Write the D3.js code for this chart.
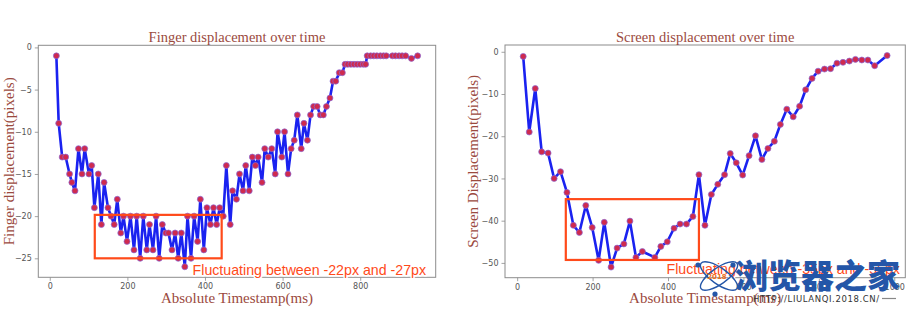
<!DOCTYPE html>
<html>
<head>
<meta charset="utf-8">
<script src="https://cdn.jsdelivr.net/npm/d3@7/dist/d3.min.js"></script>
<style>
  html, body { margin: 0; padding: 0; background: #fff; }
  svg { display: block; }
</style>
</head>
<body>
<svg id="chart" width="917" height="325"></svg>
<script>
// Finger displacement samples (time in ms, displacement in px)
const fingerTime = [17, 23, 32, 41, 51, 57, 65, 74, 83, 90, 101, 108, 115, 125, 133, 140, 150, 158, 166, 174,
  183, 190, 199, 208, 217, 224, 233, 241, 250, 257, 266, 274, 282, 290, 299, 306, 315, 323, 331, 339,
  348, 355, 364, 372, 381, 388, 397, 405, 414, 422, 430, 438, 447, 455, 465, 471, 481, 489, 498, 505,
  514, 522, 530, 537, 547, 554, 563, 572, 581, 587, 598, 605, 614, 622, 630, 638, 648, 655, 664, 672,
  680, 689, 697, 705, 713, 722, 730, 737, 746, 754, 761, 768, 776, 784, 792, 800, 808, 814,
  818, 827, 835, 843, 852, 860, 867, 883, 891, 900, 908, 917, 932, 948];
const fingerDisp = [-1, -9, -13, -13, -15, -16, -17, -12, -15, -12, -15, -14, -19, -15, -21, -16, -19, -20, -21, -18,
  -22, -20, -23, -20, -24, -20, -25, -20, -24, -21, -24, -20, -25, -21, -22, -22, -24, -22, -25, -22,
  -26, -20, -25, -20, -23, -18, -24, -19, -21, -19, -21, -19, -20, -14, -21, -17, -18, -15, -17, -14,
  -17, -13, -14, -13, -16, -12, -13, -12, -15, -10, -13, -10, -15, -12, -11, -8, -12, -9, -11, -8,
  -7, -7, -8, -8, -7, -6, -4, -4, -3, -3, -2, -2, -2, -2, -2, -2, -2, -2,
  -1, -1, -1, -1, -1, -1, -1, -1, -1, -1, -1, -1, -1.3, -1];

// Screen displacement samples
const screenTime = [16, 32, 48, 65, 82, 98, 115, 132, 149, 165, 182, 199, 216, 231, 249, 265, 283, 299, 315, 332,
  365, 381, 398, 416, 432, 449, 466, 482, 498, 515, 532, 550, 565, 581, 598, 615, 632, 649, 665, 682,
  698, 715, 732, 749, 765, 782, 798, 815, 831, 848, 864, 881, 897, 914, 930, 948, 981];
const screenDisp = [-1.1, -19.0, -8.7, -23.7, -24.0, -30.0, -28.4, -33.3, -41.1, -42.8, -36.4, -41.6, -49.4, -40.4, -51.0, -46.5, -45.5, -40.1, -48.7, -47.3,
  -48.7, -46.1, -45.0, -41.8, -40.8, -40.8, -39.0, -29.1, -41.1, -33.8, -31.4, -29.1, -24.1, -26.3, -29.2, -24.6, -19.9, -25.5, -22.9, -21.2,
  -17.2, -13.6, -15.4, -12.9, -9.0, -6.3, -4.6, -4.1, -4.0, -2.7, -2.5, -2.2, -1.8, -1.95, -1.95, -3.3, -0.9];

// Tick values
const fingerXTicks = [0, 200, 400, 600, 800];
const fingerYTicks = [0, -5, -10, -15, -20, -25];
const screenXTicks = [0, 200, 400, 600, 800, 1000];
const screenYTicks = [0, -10, -20, -30, -40, -50];

// Highlighted ranges: [t0, t1, v0, v1]
const fingerBox = [116, 443, -19.85, -25];
const screenBox = [129, 482, -34.9, -49.3];

// Annotation texts and anchors [t, v]
const fingerNote = "Fluctuating between -22px and -27px";
const fingerNoteAt = [368, -27.0];
const screenNote = "Fluctuating between -35px and -55px";
const screenNoteAt = [396, -52.6];

const titles = ["Finger displacement over time", "Screen displacement over time"];
const yLabels = ["Finger displacement(pixels)", "Screen Displacement(pixels)"];
const xLabel = "Absolute Timestamp(ms)";

const svg = d3.select("#chart");
const labelColor = "#9b4a3e";
const frameColor = "#8c8c8c";
const tickColor = "#555";
const serif = "'Liberation Serif', 'DejaVu Serif', serif";

function padded(ext) {
  const m = (ext[1] - ext[0]) * 0.05;
  return [ext[0] - m, ext[1] + m];
}

function panel(cfg) {
  const { box, times, vals, xTicks, yTicks, title, yLabel, hl, note, noteAt, yLabelX } = cfg;
  const x = d3.scaleLinear().domain(padded(d3.extent(times))).range([box.x0, box.x1]);
  const y = d3.scaleLinear().domain(padded(d3.extent(vals))).range([box.y1, box.y0]);
  const g = svg.append("g");

  // axes
  const xAxis = d3.axisBottom(x).tickValues(xTicks).tickSize(3.5).tickPadding(3).tickFormat(d3.format("d"));
  const yAxis = d3.axisLeft(y).tickValues(yTicks).tickSize(3.5).tickPadding(3).tickFormat(d => d < 0 ? "\u2212" + Math.abs(d) : d);
  const gx = g.append("g").attr("transform", `translate(0,${box.y1})`).call(xAxis);
  const gy = g.append("g").attr("transform", `translate(${box.x0},0)`).call(yAxis);
  [gx, gy].forEach(a => {
    a.select(".domain").remove();
    a.selectAll(".tick line").attr("stroke", frameColor).attr("stroke-width", 0.8);
    a.selectAll(".tick text").attr("fill", tickColor)
      .style("font-family", "'DejaVu Sans', sans-serif").style("font-size", "8px");
  });

  // frame
  g.append("rect").attr("x", box.x0).attr("y", box.y0)
    .attr("width", box.x1 - box.x0).attr("height", box.y1 - box.y0)
    .attr("fill", "none").attr("stroke", frameColor).attr("stroke-width", 1);

  // data line with dot markers
  const pts = times.map((t, i) => [t, vals[i]]);
  g.append("path").datum(pts)
    .attr("d", d3.line().x(d => x(d[0])).y(d => y(d[1])))
    .attr("fill", "none").attr("stroke", "#1a22f0").attr("stroke-width", 2.6)
    .attr("stroke-linejoin", "round");
  g.append("g").selectAll("circle").data(pts).join("circle")
    .attr("cx", d => x(d[0])).attr("cy", d => y(d[1])).attr("r", 3)
    .attr("fill", "#cf2a4e").attr("stroke", "#8a6ad8").attr("stroke-width", 0.7);

  // highlight box
  g.append("rect")
    .attr("x", x(hl[0])).attr("y", y(hl[2]))
    .attr("width", x(hl[1]) - x(hl[0])).attr("height", y(hl[3]) - y(hl[2]))
    .attr("fill", "none").attr("stroke", "#ff4a1a").attr("stroke-width", 2.2);

  // note
  g.append("text").attr("x", x(noteAt[0])).attr("y", y(noteAt[1]))
    .text(note)
    .attr("fill", "#ff4a1a").attr("stroke", "#fff").attr("stroke-width", 3)
    .attr("paint-order", "stroke").attr("stroke-linejoin", "round")
    .style("font-family", "'Liberation Sans', Arial, sans-serif").style("font-size", "14.2px");

  // title and labels
  g.append("text").attr("x", (box.x0 + box.x1) / 2).attr("y", box.y0 - 3.5)
    .attr("text-anchor", "middle").attr("fill", labelColor)
    .style("font-family", serif).style("font-size", "14.5px")
    .text(title);
  g.append("text").attr("x", (box.x0 + box.x1) / 2).attr("y", 303)
    .attr("text-anchor", "middle").attr("fill", labelColor)
    .style("font-family", serif).style("font-size", "15px")
    .text(xLabel);
  g.append("text")
    .attr("transform", `translate(${yLabelX},${(box.y0 + box.y1) / 2}) rotate(-90)`)
    .attr("text-anchor", "middle").attr("fill", labelColor)
    .style("font-family", serif).style("font-size", "15px")
    .text(yLabel);
}

panel({
  box: { x0: 38.3, x1: 435.7, y0: 45.3, y1: 277.3 },
  times: fingerTime, vals: fingerDisp, xTicks: fingerXTicks, yTicks: fingerYTicks,
  title: titles[0], yLabel: yLabels[0], hl: fingerBox, note: fingerNote, noteAt: fingerNoteAt, yLabelX: 14
});
panel({
  box: { x0: 505, x1: 905.3, y0: 45, y1: 277.7 },
  times: screenTime, vals: screenDisp, xTicks: screenXTicks, yTicks: screenYTicks,
  title: titles[1], yLabel: yLabels[1], hl: screenBox, note: screenNote, noteAt: screenNoteAt, yLabelX: 478
});

// site mark in the lower right corner
const mark = svg.append("g");
const mc = [719, 276];
[-35, 35].forEach(a => {
  mark.append("ellipse").attr("cx", mc[0]).attr("cy", mc[1]).attr("rx", 22).attr("ry", 8)
    .attr("transform", `rotate(${a},${mc[0]},${mc[1]})`)
    .attr("fill", "none").attr("stroke", "#2456a8").attr("stroke-width", 1.4);
});
[[698, 265], [733, 265], [715, 294]].forEach(p => {
  mark.append("circle").attr("cx", p[0]).attr("cy", p[1]).attr("r", 2.6).attr("fill", "#2456a8");
});
mark.append("text").attr("x", 717).attr("y", 279).attr("text-anchor", "middle")
  .attr("fill", "#f07020").style("font-family", "'DejaVu Sans', sans-serif")
  .style("font-size", "7px").style("font-weight", "bold").text("2018");
mark.append("text").attr("x", 735).attr("y", 288)
  .attr("fill", "#2456a8").style("font-family", "'Noto Sans CJK SC', sans-serif")
  .style("font-size", "33px").style("font-weight", "900").text("浏览器之家");
mark.append("text").attr("x", 753).attr("y", 302)
  .attr("fill", "#333").style("font-family", "'DejaVu Sans', sans-serif")
  .style("font-size", "8.5px").style("letter-spacing", "0.6px").text("HTTP://LIULANQI.2018.CN/");
mark.append("line").attr("x1", 882).attr("x2", 896).attr("y1", 298.5).attr("y2", 298.5)
  .attr("stroke", "#888").attr("stroke-width", 1.2);
</script>
</body>
</html>
